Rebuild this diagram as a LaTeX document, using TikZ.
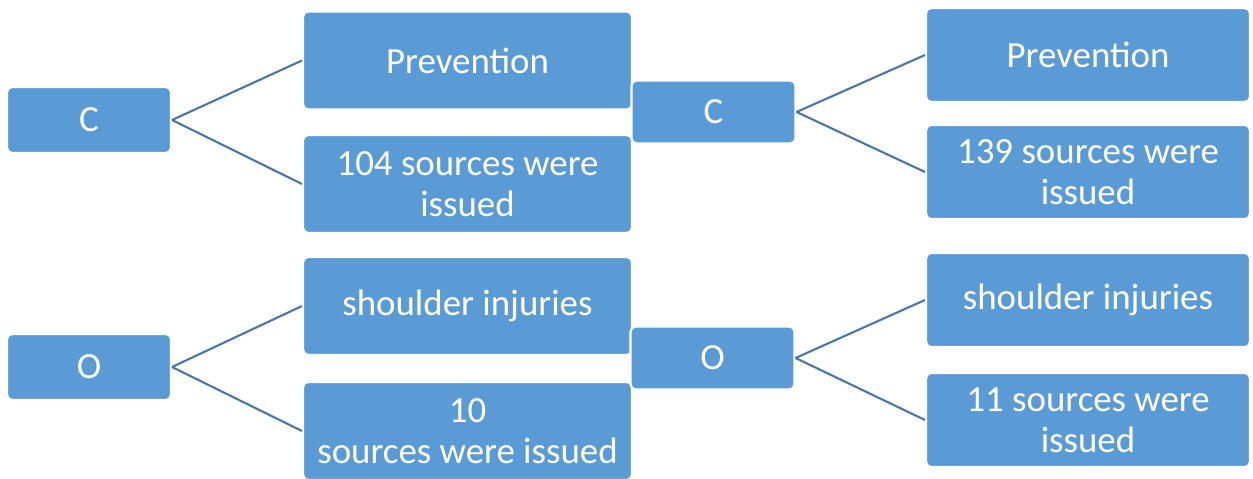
\documentclass[tikz,border=0pt]{standalone}
\usepackage{fontspec}
\setmainfont{Carlito}
\usetikzlibrary{positioning}
\definecolor{boxblue}{HTML}{5B9BD5}
\definecolor{linkblue}{HTML}{4A76A8}

\begin{document}
\begin{tikzpicture}[%
			x=0.02cm,
			y=-0.02cm,
			font=\fontsize{21}{23.5}\selectfont,
			line width=1.2pt,
			root/.style={%
				fill=boxblue,
				draw=white,
				text=white,
				rounded corners=3pt,
				inner sep=0pt,
				minimum width=3.28cm,
				minimum height=1.32cm
			},
			leaf/.style={%
				root,
				align=center,
				minimum width=6.58cm,
				minimum height=1.96cm
			},
			rleaf/.style={%
				leaf,
				minimum width=6.48cm,
				minimum height=1.88cm
			},
			link/.style={draw=linkblue}
			]
			\useasboundingbox (0,0) rectangle (1253,479);
			% C, first pair
			\node[root] (1) at (89,120) {C};
			\node[leaf] (2) at (467.5,60.5) {Prevention};
			\node[leaf] (3) at (467.5,184) {104 sources were\\issued};
			% C, second pair
			\node[root, minimum height=1.26cm] (4) at (713.5,112) {C};
			\node[rleaf] (5) at (1088,55) {Prevention};
			\node[rleaf] (6) at (1088,172) {139 sources were\\issued};
			% O, first pair
			\node[root] (7) at (89,367) {O};
			\node[leaf] (8) at (467.5,306) {shoulder injuries};
			\node[leaf] (9) at (467.5,431) {10\\sources were issued};
			% O, second pair
			\node[root, minimum height=1.26cm] (10) at (712.5,358) {O};
			\node[rleaf] (11) at (1088,300) {shoulder injuries};
			\node[rleaf] (12) at (1088,420) {11 sources were\\issued};

			\path (1.east) edge[link] (2.west)
			(1.east) edge[link] (3.west)
			(4.east) edge[link] (5.west)
			(4.east) edge[link] (6.west)
			(7.east) edge[link] (8.west)
			(7.east) edge[link] (9.west)
			(10.east) edge[link] (11.west)
			(10.east) edge[link] (12.west);
			\end{tikzpicture}
\end{document}
